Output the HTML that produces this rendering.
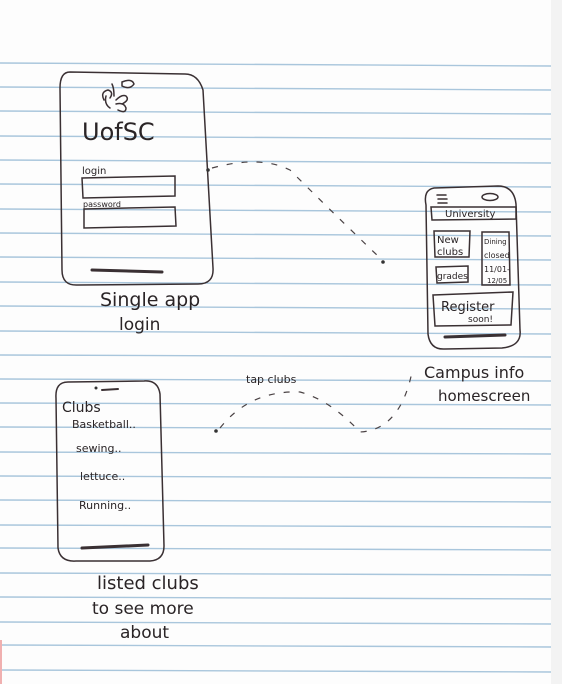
<!DOCTYPE html>
<html><head><meta charset="utf-8"><style>
html,body{margin:0;padding:0;background:#fff;}
svg{display:block}
text{font-family:"DejaVu Sans","Liberation Sans",sans-serif;fill:#2a2426;}
</style></head><body>
<svg width="562" height="684" viewBox="0 0 562 684" xmlns="http://www.w3.org/2000/svg">
<rect x="0" y="0" width="562" height="684" fill="#fdfdfd"/>
<rect x="551" y="0" width="11" height="684" fill="#f3f3f3"/>
<g stroke="#a9c6dc" stroke-width="1.4">
<line x1="0" y1="63" x2="551" y2="66"/><line x1="0" y1="87" x2="551" y2="90"/><line x1="0" y1="111" x2="551" y2="114"/><line x1="0" y1="136" x2="551" y2="139"/><line x1="0" y1="160" x2="551" y2="163"/><line x1="0" y1="184" x2="551" y2="187"/><line x1="0" y1="209" x2="551" y2="212"/><line x1="0" y1="233" x2="551" y2="236"/><line x1="0" y1="257" x2="551" y2="260"/><line x1="0" y1="282" x2="551" y2="285"/><line x1="0" y1="306" x2="551" y2="309"/><line x1="0" y1="331" x2="551" y2="334"/><line x1="0" y1="355" x2="551" y2="357"/><line x1="0" y1="379" x2="551" y2="381"/><line x1="0" y1="403" x2="551" y2="405"/><line x1="0" y1="427" x2="551" y2="429"/><line x1="0" y1="452" x2="551" y2="454"/><line x1="0" y1="476" x2="551" y2="478"/><line x1="0" y1="500" x2="551" y2="502"/><line x1="0" y1="525" x2="551" y2="527"/><line x1="0" y1="548" x2="551" y2="550"/><line x1="0" y1="573" x2="551" y2="575"/><line x1="0" y1="597" x2="551" y2="599"/><line x1="0" y1="622" x2="551" y2="624"/><line x1="0" y1="645" x2="551" y2="647"/><line x1="0" y1="670" x2="551" y2="672"/>
</g>
<line x1="1" y1="640" x2="1" y2="684" stroke="#f0b0b0" stroke-width="2"/>
<g fill="none" stroke="#3a3033" stroke-width="1.5" stroke-linecap="round">
<!-- login phone -->
<path d="M70 72 Q60 72 60 88 L62 270 Q62 286 78 285 L198 284 Q214 284 213 268 L203 90 Q198 74 185 74 Z"/>
<path d="M92 270 L162 272" stroke-width="3"/>
<path d="M82 178 L175 176 L175 196 L83 198 Z"/>
<path d="M84 209 L175 207 L176 226 L84 228 Z"/>
<path d="M104 100 q-4 -8 4 -10 q6 2 2 8 M110 108 q-6 -4 -4 -12 M114 96 q0 -8 -2 -12 M116 100 q6 -6 10 -4 q4 4 -4 8 M116 104 q8 -2 10 4 q0 6 -8 2 M122 82 q10 -4 12 2 q-4 6 -12 2 Z"/>
<!-- club phone -->
<path d="M68 382 Q55 382 56 398 L58 548 Q60 562 76 561 L150 561 Q164 560 164 546 L160 394 Q158 380 144 381 Z"/>
<path d="M82 548 L148 545" stroke-width="3"/>
<path d="M102 390 L118 389" stroke-width="2"/>
<!-- right phone -->
<path d="M434 188 Q423 190 426 205 L428 334 Q430 350 445 349 L502 348 Q522 346 520 330 L516 204 Q514 186 498 186 Z"/>
<path d="M445 337 L505 335" stroke-width="3"/>
<ellipse cx="490" cy="197" rx="8" ry="3.5"/>
<path d="M437 195 h9 M438 199 h9 M438 203 h9"/>
<path d="M431 207 L516 207 L516 219 L432 220 Z"/>
<path d="M434 231 L470 231 L469 257 L435 257 Z"/>
<path d="M436 267 L468 266 L468 282 L437 283 Z"/>
<path d="M482 232 L509 232 L510 285 L482 285 Z"/>
<path d="M433 295 L513 292 L511 325 L435 326 Z"/>
</g>
<circle cx="208" cy="170" r="1.8" fill="#333"/><circle cx="383" cy="262" r="1.8" fill="#333"/>
<circle cx="216" cy="431" r="1.8" fill="#333"/><circle cx="96" cy="388" r="1.5" fill="#333"/>
<g fill="none" stroke="#4a4244" stroke-width="1.2" stroke-dasharray="6 9">
<path d="M212 168 Q260 155 290 170 Q330 210 380 258"/>
<path d="M220 428 Q250 390 300 392 Q330 400 360 432 Q400 430 412 372"/>
</g>
<text x="82" y="140" font-size="24">UofSC</text>
<text x="82" y="174" font-size="10">login</text>
<text x="83" y="207" font-size="8">password</text>
<text x="100" y="306" font-size="19">Single app</text>
<text x="119" y="330" font-size="17">login</text>
<text x="62" y="412" font-size="14">Clubs</text>
<text x="72" y="428" font-size="11">Basketball..</text>
<text x="76" y="452" font-size="11">sewing..</text>
<text x="80" y="480" font-size="11">lettuce..</text>
<text x="79" y="509" font-size="11">Running..</text>
<text x="97" y="589" font-size="18">listed clubs</text>
<text x="92" y="614" font-size="17">to see more</text>
<text x="120" y="638" font-size="17">about</text>
<text x="246" y="383" font-size="11">tap clubs</text>
<text x="445" y="217" font-size="10">University</text>
<text x="437" y="243" font-size="10">New</text>
<text x="437" y="255" font-size="10">clubs</text>
<text x="437" y="279" font-size="9">grades</text>
<text x="484" y="244" font-size="7">Dining</text>
<text x="484" y="258" font-size="8">closed</text>
<text x="484" y="272" font-size="8">11/01-</text>
<text x="487" y="283" font-size="7">12/05</text>
<text x="441" y="311" font-size="13">Register</text>
<text x="468" y="322" font-size="9">soon!</text>
<text x="424" y="378" font-size="16">Campus info</text>
<text x="438" y="401" font-size="15">homescreen</text>
</svg>
</body></html>
